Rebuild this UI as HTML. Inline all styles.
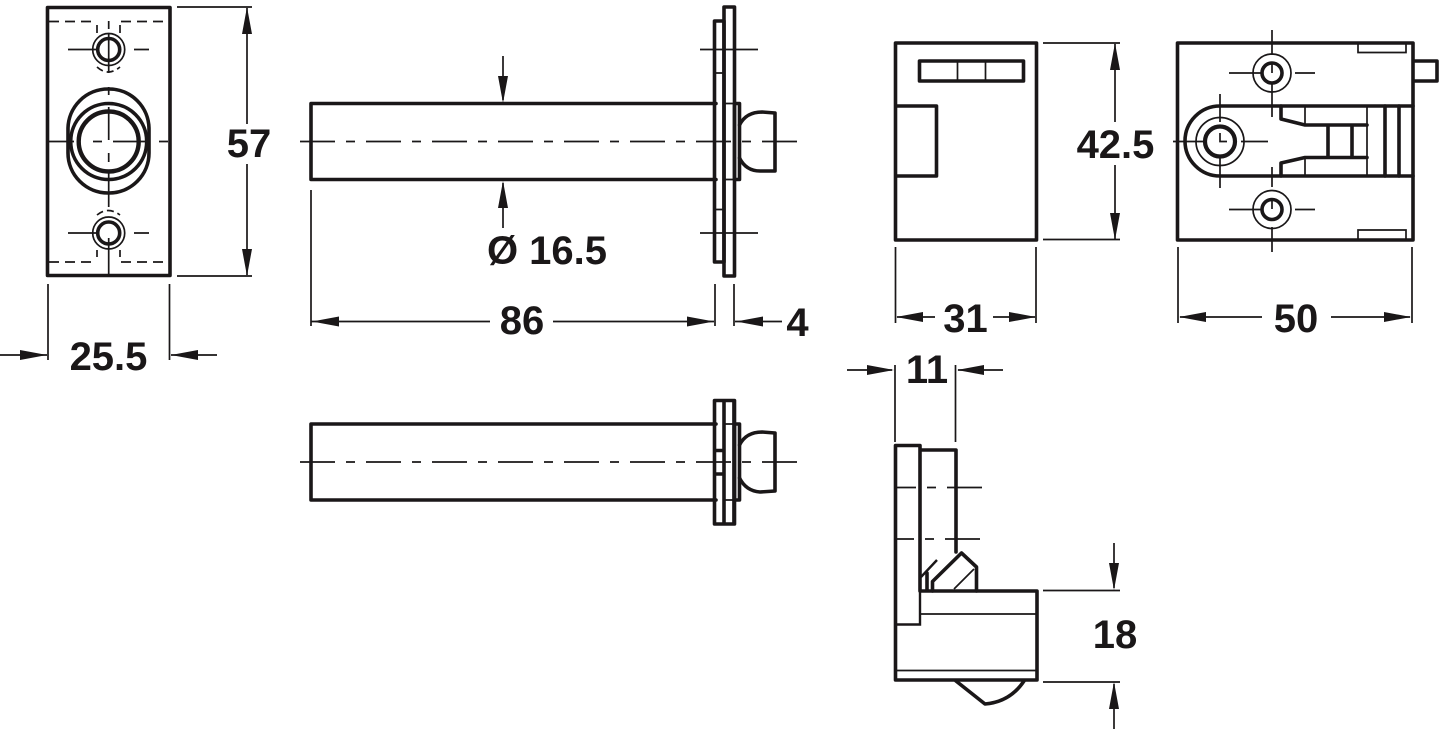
<!DOCTYPE html>
<html><head><meta charset="utf-8"><style>
html,body{margin:0;padding:0;background:#fff;width:1439px;height:730px;overflow:hidden}
svg{display:block}
text{font-family:"Liberation Sans",sans-serif;font-weight:700;font-size:40px;fill:#1a1718;text-anchor:middle}
.k{fill:none;stroke:#1a1718;stroke-width:3.6;stroke-linejoin:round;stroke-linecap:round}
.m{fill:none;stroke:#1a1718;stroke-width:2.4}
.t{fill:none;stroke:#1a1718;stroke-width:1.7}
.a{fill:#1a1718;stroke:none}
</style></head><body>
<svg width="1439" height="730" viewBox="0 0 1439 730" xmlns="http://www.w3.org/2000/svg">
<!-- View 1 -->
<rect class="k" x="47.5" y="7.5" width="122.5" height="268"/>
<path class="t" stroke-dasharray="10 6" d="M49 21.5H97M121 21.5H168M49 262H97M121 262H168"/>
<path class="t" d="M97 25V33M120 25V33M97 250V257M120 250V257"/>
<rect class="k" x="68" y="89" width="81" height="104" rx="40" ry="40"/>
<circle class="k" cx="108.7" cy="141.5" r="38"/>
<circle cx="108.7" cy="141.5" r="30" fill="none" stroke="#1a1718" stroke-width="4.4"/>
<circle class="t" cx="108.7" cy="49.5" r="16"/><circle class="k" cx="108.7" cy="49.5" r="11"/>
<circle class="t" cx="108.7" cy="233" r="16"/><circle class="k" cx="108.7" cy="233" r="11"/>
<path class="t" stroke-dasharray="7 4" d="M97 67Q108 77 120 67M97 215Q108 206 120 215"/>
<path class="t" d="M48 141.5H74M93 141.5H102M113 141.5H146M159 141.5H168M108.7 87V95M108.7 107V140M108.7 153V162M108.7 172V207M108.7 21V29M108.7 33V73M108.7 238V276M68 49.5H97M134 49.5H149M68 233H97M134 233H149"/>
<!-- 57 -->
<path class="t" d="M177 7H252M177 276H252M247 8V124M247 164V275"/>
<path class="a" d="M247 7L252 34H242ZM247 276L252 249H242Z"/>
<text x="249" y="157">57</text>
<!-- 25.5 -->
<path class="t" d="M48 284V360M169.5 284V360M0 355H47M171 355H217"/>
<path class="a" d="M47 355L20 350V360ZM171 355L198 350V360Z"/>
<text x="108.500" y="370">25.5</text>
<!-- View 2 -->
<path class="k" d="M716 103.500H311V179.500H716"/>
<rect class="k" x="714.500" y="21" width="9.500" height="241"/>
<rect class="k" x="724" y="7" width="10.500" height="269"/>
<rect class="k" x="734.500" y="103.500" width="5" height="76"/>
<path class="k" d="M739.500 125Q746 112 762 112L775 113V171L760 171Q746 171 739.500 158"/>
<path class="t" d="M725 103.500H734M725 179.500H734M716 73H723M716 209.500H723M700 49.500H758M700 233H758"/>
<path class="t" stroke-dasharray="35 11 9 11" d="M300 141.500H798"/>
<!-- 16.5 arrows -->
<path class="t" d="M503 56V100M503 183V228"/>
<path class="a" d="M503 103L508 76H498ZM503 181L508 208H498Z"/>
<text x="547" y="264">Ø 16.5</text>
<!-- 86 / 4 -->
<path class="t" d="M311 190V326M715 284V326M734 284V326M311 321.500H490M553 321.500H714M735 321.500H782"/>
<path class="a" d="M312 321.500L339 316.500V326.500ZM714 321.500L687 316.500V326.500ZM736 321.500L763 316.500V326.500Z"/>
<text x="522" y="334">86</text>
<text x="797.500" y="336">4</text>
<!-- View 3 -->
<path class="k" d="M716 424H311V500H716"/>
<rect class="k" x="714.500" y="400.500" width="20" height="123.500"/>
<path class="k" d="M724 401V523"/>
<path class="t" d="M724 424H734M724 500H734M733 401V523"/>
<rect class="k" x="734.500" y="424" width="5" height="76"/>
<path class="k" d="M739.500 445Q746 432 762 432L775 433V491L760 492Q746 491 739.500 478"/>
<path d="M716 450.500H724M716 474H724" stroke="#1a1718" stroke-width="3.500" fill="none"/>
<path class="t" stroke-dasharray="35 11 9 11" d="M300 462H798"/>
<!-- View 4 front -->
<rect class="k" x="895.500" y="43" width="141" height="197"/>
<rect class="k" x="919.500" y="61" width="104" height="20"/>
<path class="t" d="M957.500 61V81M985.500 61V81"/>
<path class="k" d="M896 106H936.500V176H896"/>
<path class="t" d="M1043 43H1120M1043 239.500H1120M1115 44V122M1115 165V239"/>
<path class="a" d="M1115 43L1120 70H1110ZM1115 240L1120 213H1110Z"/>
<text x="1115.500" y="158">42.5</text>
<path class="t" d="M895.500 247V323M1036 247V323M897 317H935M993 317H1035"/>
<path class="a" d="M896 317L923 312V322ZM1036 317L1009 312V322Z"/>
<text x="965.500" y="332">31</text>
<!-- View 5 -->
<rect class="k" x="1177.500" y="43" width="235.500" height="197"/>
<path class="t" d="M1358 44V52.500H1406V44M1358 239V230H1406V239"/>
<path class="k" d="M1414 61H1437V81H1414"/>
<path class="k" d="M1413 106H1220A35 35 0 0 0 1220 176H1413"/>
<circle class="t" cx="1272" cy="73" r="19"/><circle class="k" cx="1272" cy="73" r="10"/>
<circle class="t" cx="1272" cy="209.500" r="19"/><circle class="k" cx="1272" cy="209.500" r="10"/>
<circle class="t" cx="1220" cy="141.500" r="24"/>
<circle cx="1220" cy="141.500" r="15" fill="none" stroke="#1a1718" stroke-width="4.200"/>
<path class="t" d="M1229 73H1263M1295 73H1315M1272 30V55M1272 83V117M1272 64V73M1229 209.500H1263M1295 209.500H1315M1272 167V187M1272 227V252M1272 201V209M1173 141.500H1205M1241 141.500H1268M1220 94V122M1220 155V188M1220 133V141.500H1227"/>
<path class="k" d="M1281 106V119L1305 125H1367M1281 176V163L1305 157.500H1367M1328 125V157.500M1352 125V157.500M1385 106V176M1399 106V176"/>
<path class="t" d="M1305 106V125M1305 157.500V176M1367 106V176"/>
<path class="t" d="M1178 247V323M1412 247V323M1180 317H1262M1331 317H1410"/>
<path class="a" d="M1179 317L1206 312V322ZM1411 317L1384 312V322Z"/>
<text x="1296" y="332">50</text>
<!-- View 6 side -->
<path class="k" d="M920 591H1037V680H895.500V445.500H920V591"/>
<path class="m" d="M896 624.500H920V591"/>
<path class="k" d="M921 450H956V552M956 552"/>
<path class="t" d="M920 614H1037M896 670.500H1037M954 589L974 569"/>
<path class="k" d="M932.500 591V581.500L961.500 553L976.500 567V591"/>
<path class="m" d="M921 577L937 560M927 573V590"/>
<path class="k" d="M927 573V590"/>
<path class="k" d="M956 681L985 704Q1010 702 1024 681"/>
<path class="t" d="M896 487.500H916M927 487.500H936M947 487.500H982M896 539H914M925 539H934M945 539H980"/>
<!-- 11 -->
<path class="t" d="M895 365V442M955.500 365V442M847 370H892M958 370H1003"/>
<path class="a" d="M894 370L867 365V375ZM957 370L984 365V375Z"/>
<text x="927" y="383">11</text>
<!-- 18 -->
<path class="t" d="M1043 590.500H1120M1043 682H1120M1114 543V588M1114 684V729"/>
<path class="a" d="M1114 590L1119 563H1109ZM1114 682L1119 709H1109Z"/>
<text x="1115" y="648">18</text>
</svg>
</body></html>
